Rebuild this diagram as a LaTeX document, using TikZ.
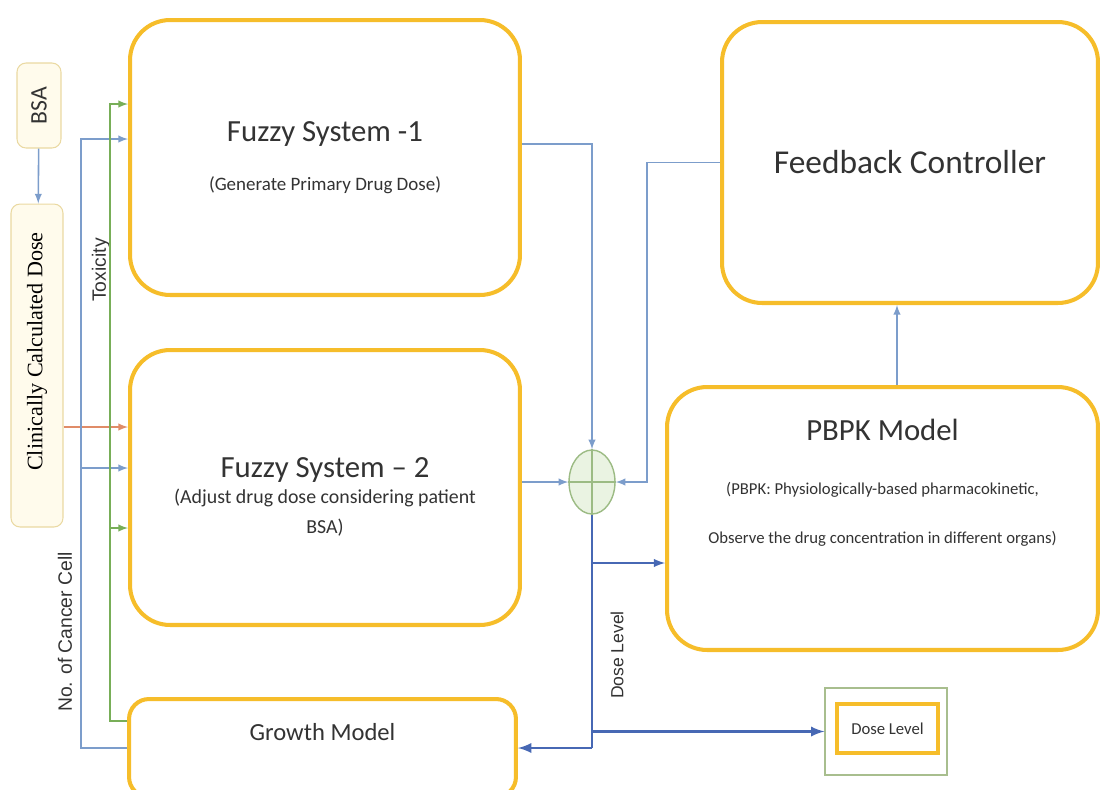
\documentclass[tikz,border=0pt]{standalone}
\usepackage{fontspec}
\setmainfont{Carlito}
\newfontfamily\doseserif{Liberation Serif}
\newfontfamily\linefont{Liberation Sans}
\usetikzlibrary{shapes.geometric}
\usetikzlibrary{arrows}

\definecolor{gold}{HTML}{F6BD2A}
\definecolor{softfill}{HTML}{FFFBEC}
\definecolor{softedge}{HTML}{EAD9A2}
\definecolor{lineblue}{HTML}{7C9DCB}
\definecolor{darkblue}{HTML}{4768B4}
\definecolor{toxgreen}{HTML}{78AE58}
\definecolor{doseorange}{HTML}{E08C68}
\definecolor{sumfill}{HTML}{EAF3E2}
\definecolor{sumedge}{HTML}{9CBB84}
\definecolor{dlgreen}{HTML}{A8BE8E}
\definecolor{textgray}{HTML}{333333}

\tikzset{
  bigbox/.style={draw=gold, line width=2.3pt, rounded corners=0.8cm, fill=white, text=textgray, align=center},
  softbox/.style={draw=softedge, line width=0.6pt, rounded corners=0.18cm, fill=softfill, text=textgray, inner sep=0pt},
  cnlabel/.style={font=\linefont\fontsize{11}{13}\selectfont, text=textgray, rotate=90},
  blueline/.style={draw=lineblue, line width=0.9pt},
  greenline/.style={draw=toxgreen, line width=0.9pt},
  doseline/.style={draw=darkblue, line width=1.6pt},
}

\begin{document}
\begin{tikzpicture}[x=0.02cm,y=-0.02cm]
\useasboundingbox (0,0) rectangle (1102,789);
\clip (0,0) rectangle (1102,789);

\node [softbox, minimum width=0.88cm, minimum height=1.7cm, font=\fontsize{13.5}{16}\selectfont] (bsa) at (39,105.5) {\rotatebox{90}{BSA}};
\node [softbox, minimum width=1.04cm, minimum height=6.46cm, label={[font=\doseserif\fontsize{12.6}{15}\selectfont, text=black, yshift=0.28cm]center:\rotatebox{90}{Clinically Calculated Dose}}] (ccd) at (37,365.5) {};

\node [bigbox, minimum width=7.8cm, minimum height=5.5cm, font=\fontsize{10.8}{13}\selectfont] (fs1) at (325,157.5) {{\fontsize{17.5}{21}\selectfont Fuzzy System -1}\\[15pt](Generate Primary Drug Dose)};
\node [bigbox, minimum width=7.8cm, minimum height=5.5cm, label={[align=center, text=textgray, font=\fontsize{11.3}{13}\selectfont, yshift=-0.18cm]center:{{\fontsize{17.5}{21}\selectfont Fuzzy System -- 2}\\[2pt](Adjust drug dose considering patient\\[4pt]BSA)}}] (fs2) at (325,487.5) {};
\node [bigbox, rounded corners=0.4cm, minimum width=7.74cm, minimum height=1.96cm, label={[font=\fontsize{14}{17}\selectfont, text=textgray, yshift=0.32cm]center:Growth Model}] (gm) at (322.5,748) {};
\node [bigbox, minimum width=7.52cm, minimum height=5.62cm, font=\fontsize{19}{23}\selectfont] (fc) at (910,162.5) {Feedback Controller};
\node [bigbox, minimum width=8.62cm, minimum height=5.26cm, label={[anchor=north, align=center, text=textgray, font=\fontsize{9.5}{12}\selectfont, yshift=-0.55cm]north:{{\fontsize{17.5}{21}\selectfont PBPK Model}\\[19pt](PBPK: Physiologically-based pharmacokinetic,\\[16pt]Observe the drug concentration in different organs)}}] (pbpk) at (882.5,518.5) {};

\node [ellipse, draw=sumedge, line width=0.8pt, fill=sumfill, minimum width=0.92cm, minimum height=1.28cm, inner sep=0pt] (sum) at (592,482) {};
\draw [draw=sumedge, line width=0.6pt] (sum.north) -- (sum.south) (sum.west) -- (sum.east);

\node [draw=dlgreen, line width=0.7pt, minimum width=2.44cm, minimum height=1.74cm] (dlo) at (886,731.5) {};
\node [draw=gold, line width=2.3pt, minimum width=2.02cm, minimum height=0.98cm, font=\fontsize{9.5}{11}\selectfont, text=textgray] (dl) at (887.5,728.5) {Dose Level};

\node [cnlabel] (tox) at (101,270) {Toxicity};
\node [cnlabel] (ncc) at (65,632) {No. of Cancer Cell};
\node [cnlabel, font=\linefont\fontsize{10}{12}\selectfont] (dll) at (617,655) {Dose Level};

\coordinate (celltr) at (81,0);
\coordinate (toxtr) at (110,0);
\coordinate (fbk) at (647,0);
\path ([yshift=0.37cm]fs1.west) coordinate (fs1c)
      ([yshift=1.07cm]fs1.west) coordinate (fs1t)
      ([yshift=1.21cm]fs2.west) coordinate (fs2d)
      ([yshift=0.39cm]fs2.west) coordinate (fs2c)
      ([yshift=-0.81cm]fs2.west) coordinate (fs2t)
      ([yshift=0.54cm]gm.west) coordinate (gmt)
      ([yshift=0.27cm]fs1.east) coordinate (fs1o)
      ([yshift=-0.89cm]pbpk.west) coordinate (pbin)
      ([xshift=0.29cm]pbpk.north) coordinate (pbtop);

\draw [blueline, -latex] (bsa) -- (ccd);
\draw [draw=doseorange, line width=0.9pt, -latex] (ccd.east |- fs2d) -- (fs2d);
\draw [blueline, -latex] (gm.west) -| (celltr |- fs1c) -- (fs1c);
\draw [blueline, -latex] (celltr |- fs2c) -- (fs2c);
\draw [greenline, -latex] (gmt) -| (toxtr |- fs1t) -- (fs1t);
\draw [greenline, -latex] (toxtr |- fs2t) -- (fs2t);

\draw [blueline, -latex] (fs1o) -| (sum.north);
\draw [blueline, -latex] (fs2.east |- sum) -- (sum.west);
\draw [blueline, -latex] (fc.west) -| (fbk |- sum) -- (sum.east);
\draw [blueline, -latex] (pbtop) -- (pbtop |- fc.south);
\draw [doseline] (sum.south) -- (sum.south |- gm.east);
\draw [doseline, line width=1.2pt, -latex] (sum.south |- pbin) -- (pbin);
\draw [doseline, -latex] (sum.south |- gm.east) -- (gm.east);
\draw [doseline, -latex] (sum.south |- dlo.west) -- (dlo.west);
\end{tikzpicture}
\end{document}
